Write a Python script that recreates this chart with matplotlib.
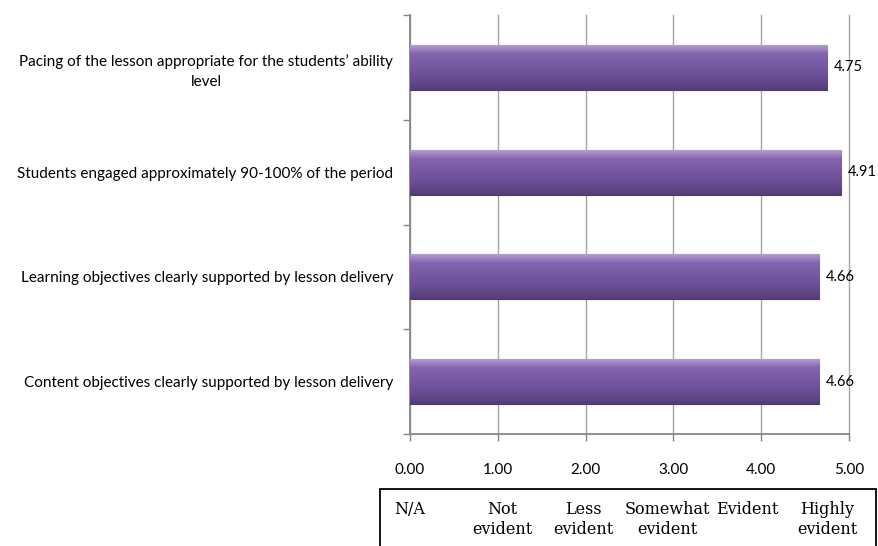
#!/usr/bin/env python3
"""Lesson delivery ratings, horizontal bar chart with rating scale table."""

import matplotlib

matplotlib.use("Agg")
import matplotlib.pyplot as plt
import numpy as np
from matplotlib.patches import Rectangle

categories = [
    "Content objectives clearly supported by lesson delivery",
    "Learning objectives clearly supported by lesson delivery",
    "Students engaged approximately 90-100% of the period",
    "Pacing of the lesson appropriate for the students\u2019 ability\nlevel",
]
scores = [4.66, 4.66, 4.91, 4.75]
tick_values = [0, 1, 2, 3, 4, 5]
scale_labels = ["N/A", "Not\nevident", "Less\nevident", "Somewhat\nevident", "Evident", "Highly\nevident"]
scale_x = [0.0, 1.05, 1.97, 2.93, 3.84, 4.75]

W, H = 879, 546
fig = plt.figure(figsize=(W / 100, H / 100), dpi=100)
ax = fig.add_axes([410 / W, 1 - 434 / H, 439 / W, 419 / H])

sans = ["Lato", "Liberation Sans", "DejaVu Sans"]
serif = ["DejaVu Serif"]

y = np.arange(len(categories))
bar_h = 0.43
bars = ax.barh(y, scores, height=bar_h, color="#7658a1", edgecolor="#4f3a70",
               linewidth=0.8, zorder=3)

# vertical shading to mimic the bevelled bar look
grad = np.linspace(0, 1, 64).reshape(-1, 1)
cmap = matplotlib.colors.LinearSegmentedColormap.from_list(
    "bar", ["#b9a3d3", "#8466b0", "#7a5ca6", "#71549c", "#654a8d", "#553d79"])
for bar in bars:
    x0, y0 = bar.get_x(), bar.get_y()
    im = ax.imshow(grad, cmap=cmap, aspect="auto", zorder=3.5,
                   extent=[x0, x0 + bar.get_width(), y0, y0 + bar.get_height()])
    im.set_clip_path(bar)

for yi, v in zip(y, scores):
    ax.text(v + 0.08, yi, f"{v:.2f}", va="center", ha="left",
            fontsize=10.5, family=sans, color="black", zorder=4)

ax.set_xlim(0, 5)
ax.set_ylim(-0.5, len(categories) - 0.5)
ax.set_xticks(tick_values, labels=[f"{t:.2f}" for t in tick_values])
ax.set_yticks(y, labels=categories)
ax.set_yticks(np.arange(-0.5, len(categories), 1.0), minor=True)
ax.tick_params(axis="y", which="major", length=0, pad=12)
ax.tick_params(axis="y", which="minor", length=5, color="#868686", width=1)
ax.tick_params(axis="x", length=5, color="#868686", width=1, pad=16)
for lbl in ax.get_yticklabels():
    lbl.set_fontfamily(sans)
    lbl.set_fontsize(11)
    lbl.set_multialignment("center")
    lbl.set_linespacing(1.5)
for lbl in ax.get_xticklabels():
    lbl.set_fontfamily(sans)
    lbl.set_fontsize(11)

ax.grid(axis="x", color="#a6a6a6", linewidth=1, zorder=0)
for gl in ax.get_xgridlines():
    gl.set_clip_on(False)
ax.set_axisbelow(True)
for side in ("top", "right"):
    ax.spines[side].set_visible(False)
for side in ("left", "bottom"):
    ax.spines[side].set_color("#868686")
    ax.spines[side].set_linewidth(1.3)

# rating scale table under the axis
fig.patches.append(Rectangle((380 / W, -0.05), 496 / W, 1 - 489 / H + 0.05,
                             transform=fig.transFigure, fill=False,
                             edgecolor="black", linewidth=1.3))
trans = matplotlib.transforms.blended_transform_factory(ax.transData, fig.transFigure)
for xv, lab in zip(scale_x, scale_labels):
    ax.text(xv, 1 - 501 / H, lab, transform=trans, ha="center", va="top",
            fontsize=11.5, family=serif, linespacing=1.2, clip_on=False)

fig.savefig("out.png", dpi=100)
